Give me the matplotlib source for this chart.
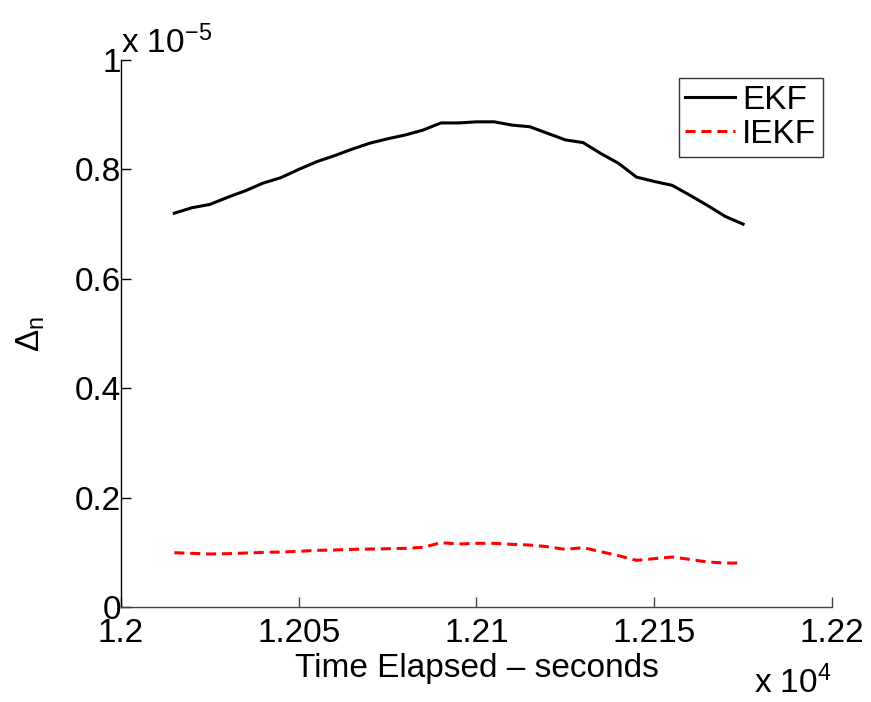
import numpy as np
import matplotlib.pyplot as plt
from matplotlib.ticker import FuncFormatter

plt.rcParams['font.family'] = ['Liberation Sans', 'DejaVu Sans']
plt.rcParams['mathtext.fontset'] = 'custom'
plt.rcParams['mathtext.rm'] = 'Liberation Sans'
plt.rcParams['mathtext.it'] = 'Liberation Sans'
plt.rcParams['mathtext.bf'] = 'Liberation Sans'

# ── Datos ────────────────────────────────────────────────────────────
t = [12015, 12020, 12025, 12030, 12035, 12040, 12045, 12050, 12055, 12060,
     12065, 12070, 12075, 12080, 12085, 12090, 12095, 12100, 12105, 12110,
     12115, 12120, 12125, 12130, 12135, 12140, 12145, 12150, 12155, 12160,
     12165, 12170, 12175]

ekf = [0.720, 0.730, 0.736, 0.749, 0.761, 0.775, 0.785, 0.800, 0.814, 0.825,
       0.837, 0.848, 0.856, 0.863, 0.872, 0.885, 0.885, 0.887, 0.887, 0.881,
       0.878, 0.866, 0.854, 0.849, 0.829, 0.811, 0.786, 0.778, 0.771, 0.753,
       0.734, 0.714, 0.700]

iekf = [0.0993, 0.0981, 0.0969, 0.0975, 0.0987, 0.0999, 0.1005, 0.1018, 0.1036, 0.1042,
        0.1054, 0.1060, 0.1066, 0.1073, 0.1091, 0.1176, 0.1152, 0.1164, 0.1164, 0.1146,
        0.1133, 0.1103, 0.1054, 0.1085, 0.1012, 0.0938, 0.0853, 0.0884, 0.0914, 0.0871,
        0.0823, 0.0804, 0.0804]

ekf = np.array(ekf) * 1e-5
iekf = np.array(iekf) * 1e-5

xticks = [12000, 12050, 12100, 12150, 12200]
yticks = [0, 0.2e-5, 0.4e-5, 0.6e-5, 0.8e-5, 1e-5]

FS = 24

# ── Figura ───────────────────────────────────────────────────────────
fig = plt.figure(figsize=(8.71, 7.02), dpi=100)
ax = fig.add_axes([0.1389, 0.1353, 0.8163, 0.7792])

ax.plot(t, ekf, color="black", linewidth=2.2, label="EKF")
ax.plot(t, iekf, color="red", linewidth=2.2, linestyle=(0, (3.3, 1.9)), label="IEKF")

ax.set_xlim(12000, 12200)
ax.set_ylim(0, 1e-5)
ax.set_xticks(xticks)
ax.set_yticks(yticks)
ax.xaxis.set_major_formatter(FuncFormatter(lambda v, p: f"{v / 1e4:g}"))
ax.yaxis.set_major_formatter(FuncFormatter(lambda v, p: f"{v / 1e-5:g}"))

ax.spines["top"].set_visible(False)
ax.spines["right"].set_visible(False)
ax.spines["left"].set_linewidth(1.0)
ax.spines["bottom"].set_linewidth(1.0)
ax.spines["bottom"].set_color("#444444")
ax.tick_params(direction="in", length=7, width=1.0, labelsize=FS)
ax.tick_params(axis="x", pad=8, color="#444444")
ax.tick_params(axis="y", pad=0)

ax.set_xlabel("Time Elapsed – seconds", fontsize=FS, labelpad=3)
ax.set_ylabel(r"$\Delta_{\mathrm{n}}$", fontsize=FS, labelpad=20)

# multiplicadores de los ejes
ax.text(0.0, 1.013, r"x 10$^{-5}$", transform=ax.transAxes, fontsize=FS,
        ha="left", va="baseline")
ax.text(1.0, -0.158, r"x 10$^{4}$", transform=ax.transAxes, fontsize=FS,
        ha="right", va="baseline")

leg = ax.legend(loc="upper right", bbox_to_anchor=(0.9873, 0.967), fontsize=FS,
                frameon=True, fancybox=False, edgecolor="black",
                handlelength=1.5, handletextpad=0.2, borderpad=0.2,
                labelspacing=0.1, borderaxespad=0)
leg.get_frame().set_linewidth(1.0)

fig.savefig("out.png", dpi=100)
